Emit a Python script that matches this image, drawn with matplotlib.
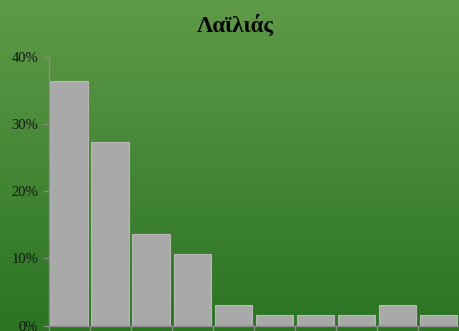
import matplotlib
matplotlib.use("Agg")
import matplotlib.pyplot as plt
import numpy as np
from matplotlib.colors import LinearSegmentedColormap
from matplotlib.ticker import PercentFormatter

# Dane: udział procentowy kategorii
categories = ["1", "2", "3", "4", "5", "6", "7", "8", "9", "10"]
shares = [0.364, 0.273, 0.136, 0.106, 0.030, 0.015, 0.015, 0.015, 0.030, 0.015]
y_ticks = [0.0, 0.1, 0.2, 0.3, 0.4]
title = "Λαϊλιάς"

fig = plt.figure(figsize=(4.59, 3.31), dpi=100)

# Tło z gradientem
bg = fig.add_axes([0, 0, 1, 1], zorder=0)
cmap = LinearSegmentedColormap.from_list("bg", ["#5f9a48", "#2a7422"])
bg.imshow(np.linspace(0, 1, 256).reshape(-1, 1), aspect="auto", cmap=cmap,
          extent=[0, 1, 0, 1])
bg.axis("off")

ax = fig.add_axes([0.1057, 0.0166, 0.8943, 0.8112], zorder=1)
ax.patch.set_alpha(0)

x = np.arange(len(categories))
ax.bar(x, shares, width=0.91, color="#a9a9a9", edgecolor="#b8b8b8", linewidth=0.8)

ax.set_xlim(-0.5, len(categories) - 0.5)
ax.set_ylim(0, 0.4)
ax.set_yticks(y_ticks)
ax.yaxis.set_major_formatter(PercentFormatter(1.0, decimals=0))

# Kreski osi X na granicach kategorii
ax.set_xticks(np.arange(len(categories)) - 0.5)
ax.set_xticklabels([])
ax.tick_params(axis="x", length=7, color="#8a8a8a", width=1)
ax.tick_params(axis="y", length=4, color="#8a8a8a", width=1,
               labelsize=10.5, labelcolor="#141414")
for lbl in ax.get_yticklabels():
    lbl.set_fontfamily("Liberation Serif")

for side in ["top", "right"]:
    ax.spines[side].set_visible(False)
for side in ["left", "bottom"]:
    ax.spines[side].set_color("#8a8a8a")
    ax.spines[side].set_linewidth(1)

fig.text(0.513, 0.923, title, ha="center", va="center", fontsize=16.5,
         fontweight="bold", family="Liberation Serif", color="black")

fig.savefig("out.png", dpi=100)
